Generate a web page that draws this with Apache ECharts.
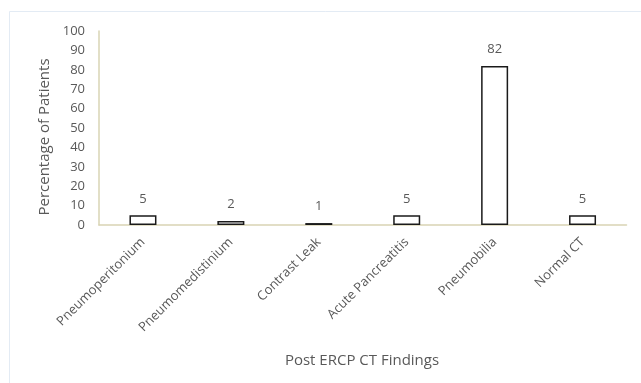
<!DOCTYPE html>
<html>
<head>
<meta charset="utf-8">
<script src="https://cdn.jsdelivr.net/npm/echarts@6/dist/echarts.min.js"></script>
<style>
  html, body { margin: 0; padding: 0; background: #fff; }
  #chart { width: 641px; height: 383px; }
</style>
</head>
<body>
<div id="chart"></div>
<script>
// Post-ERCP CT findings, percentage of patients
const categories = ['Pneumoperitonium', 'Pneumomedistinium', 'Contrast Leak', 'Acute Pancreatitis', 'Pneumobilia', 'Normal CT'];
const percentages = [5, 2, 1, 5, 82, 5];
const yTicks = { min: 0, max: 100, interval: 10 };

const textColor = '#595959';
const fontFamily = '"Open Sans", "Noto Sans", sans-serif';

const chart = echarts.init(document.getElementById('chart'), null, { renderer: 'canvas' });
chart.setOption({
  animation: false,
  backgroundColor: '#ffffff',
  textStyle: { fontFamily: fontFamily, color: textColor },
  graphic: [
    {
      type: 'rect',
      shape: { x: 9.5, y: 11.5, width: 640, height: 380 },
      style: { fill: 'none', stroke: '#e3ebf4', lineWidth: 1 },
      silent: true
    },
    {
      type: 'text',
      x: 45, y: 137,
      rotation: Math.PI / 2,
      style: {
        text: 'Percentage of Patients',
        fill: textColor,
        font: '15px ' + fontFamily,
        align: 'center',
        verticalAlign: 'middle'
      }
    },
    {
      type: 'text',
      x: 362, y: 361,
      style: {
        text: 'Post ERCP CT Findings',
        fill: textColor,
        font: '15px ' + fontFamily,
        align: 'center',
        verticalAlign: 'middle'
      }
    }
  ],
  grid: { left: 99, top: 31, right: 14.5, bottom: 158, containLabel: false },
  xAxis: {
    type: 'category',
    data: categories,
    axisLine: { show: true, lineStyle: { color: '#d9d4b4', width: 1.5 } },
    axisTick: { show: false },
    axisLabel: {
      rotate: 45,
      margin: 15,
      fontSize: 13,
      color: textColor,
      fontFamily: fontFamily,
      interval: 0
    }
  },
  yAxis: {
    type: 'value',
    min: yTicks.min,
    max: yTicks.max,
    interval: yTicks.interval,
    axisLine: { show: true, lineStyle: { color: '#d9d4b4', width: 1.5 } },
    axisTick: { show: false },
    splitLine: { show: false },
    axisLabel: { fontSize: 13, margin: 14, color: textColor, fontFamily: fontFamily }
  },
  series: [{
    type: 'bar',
    data: percentages,
    barWidth: 27,
    itemStyle: { color: '#ffffff', borderColor: '#1a1a1a', borderWidth: 1.5 },
    label: {
      show: true,
      position: 'top',
      distance: 10,
      fontSize: 13,
      color: textColor,
      fontFamily: fontFamily
    }
  }]
});
</script>
</body>
</html>
